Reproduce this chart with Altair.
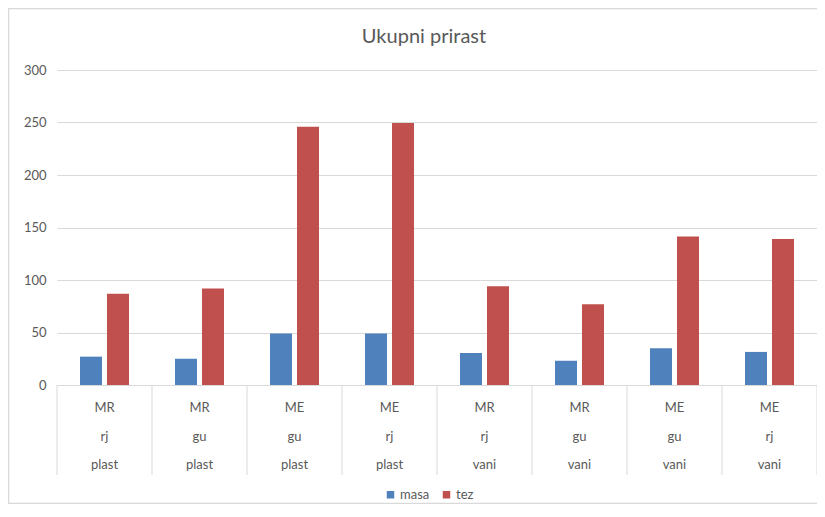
import altair as alt
import pandas as pd

# ---- data ----
title_text = "Ukupni prirast"
row1 = ["MR", "MR", "ME", "ME", "MR", "MR", "ME", "ME"]
row2 = ["rj", "gu", "gu", "rj", "rj", "gu", "gu", "rj"]
row3 = ["plast", "plast", "plast", "plast", "vani", "vani", "vani", "vani"]
masa = [27, 25, 49, 49, 30.5, 23, 35, 31.5]
tez = [87, 92, 246, 249.5, 94, 77, 141.5, 139]
series_names = ["masa", "tez"]
colors = ["#4F81BD", "#C0504D"]
y_ticks = [0, 50, 100, 150, 200, 250, 300]

cats = [f"c{i}" for i in range(len(row1))]
long_rows = []
for i, c in enumerate(cats):
    long_rows.append({"cat": c, "series": "masa", "value": masa[i]})
    long_rows.append({"cat": c, "series": "tez", "value": tez[i]})
bars_df = pd.DataFrame(long_rows)
cat_df = pd.DataFrame({"cat": cats, "r1": row1, "r2": row2, "r3": row3})
last_df = cat_df.iloc[[-1]]
title_df = pd.DataFrame({"t": [title_text]})

W, H = 760, 315
FONT = "Lato"
TXT = "#595959"
GRID = "#d9d9d9"

xscale = alt.Scale(domain=cats, paddingInner=0, paddingOuter=0)

bars = alt.Chart(bars_df).mark_bar().encode(
    x=alt.X("cat:N", scale=xscale, axis=None, sort=cats),
    xOffset=alt.XOffset("series:N", scale=alt.Scale(domain=series_names, paddingInner=0.185, paddingOuter=0.852)),
    y=alt.Y("value:Q", scale=alt.Scale(domain=[0, 300], nice=False),
            axis=alt.Axis(values=y_ticks, title=None, grid=True, gridColor=GRID,
                          domain=False, ticks=False, labelPadding=11,
                          labelColor=TXT, labelFontSize=13, labelFont=FONT)),
    color=alt.Color("series:N", scale=alt.Scale(domain=series_names, range=colors),
                    legend=alt.Legend(title=None, orient="none", direction="horizontal",
                                      legendX=327, legendY=418, symbolType="square",
                                      symbolSize=56, symbolStrokeWidth=0,
                                      labelFont=FONT, labelFontSize=13, labelColor=TXT,
                                      columnPadding=10, labelOffset=3)),
)

dividers = alt.Chart(cat_df).mark_rule(color=GRID, strokeWidth=1).encode(
    x=alt.X("cat:N", scale=xscale, bandPosition=0, sort=cats),
    y=alt.value(H), y2=alt.value(H + 90),
)
last_div = alt.Chart(last_df).mark_rule(color=GRID, strokeWidth=1).encode(
    x=alt.X("cat:N", scale=xscale, bandPosition=1, sort=cats),
    y=alt.value(H), y2=alt.value(H + 90),
)

def row_text(field, ypos):
    return alt.Chart(cat_df).mark_text(font=FONT, fontSize=13, color=TXT, baseline="middle").encode(
        x=alt.X("cat:N", scale=xscale, sort=cats),
        y=alt.value(ypos),
        text=f"{field}:N",
    )

t1 = row_text("r1", 338)
t2 = row_text("r2", 367)
t3 = row_text("r3", 395)

title = alt.Chart(title_df).mark_text(font=FONT, fontSize=20, color=TXT, baseline="alphabetic",
                                      align="center").encode(
    x=alt.value(367), y=alt.value(-27), text="t:N"
)

border = alt.Chart(cat_df.iloc[[0]]).mark_rect(fill=None, stroke="#d9d9d9", strokeWidth=1.5).encode(
    x=alt.value(-48.5), x2=alt.value(W + 40), y=alt.value(-61.5), y2=alt.value(433.5)
)

chart = alt.layer(border, bars, dividers, last_div, t1, t2, t3, title).properties(
    width=W, height=H,
    autosize=alt.AutoSizeParams(type="none"),
    padding={"left": 49, "top": 62, "right": 0, "bottom": 119},
).configure_view(stroke=None)

chart.save("out.html", embed_options={"renderer": "svg", "actions": False})
